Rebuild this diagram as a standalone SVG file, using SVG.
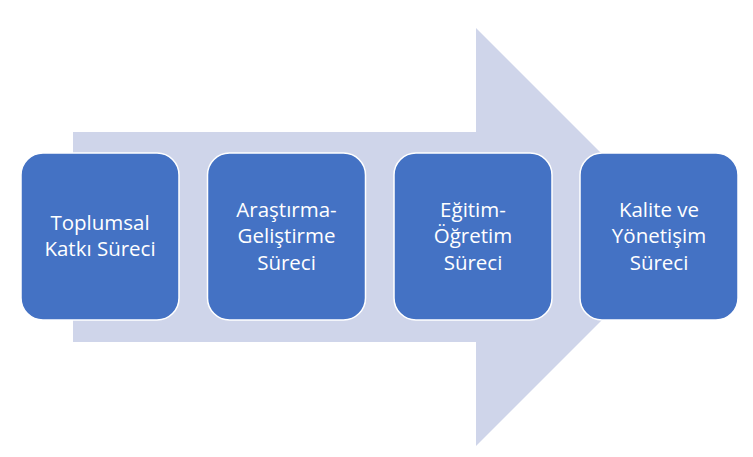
<svg xmlns="http://www.w3.org/2000/svg" width="753" height="457" viewBox="0 0 753 457">
<style>
.box{fill:#4472C4;stroke:#FFFFFF;stroke-width:1.5}
.lbl{font-family:"Open Sans","Liberation Sans",sans-serif;font-size:20.5px;fill:#FFFFFF;text-anchor:middle}
</style>
<rect width="753" height="457" fill="#FFFFFF"/>
<g id="arrow">
<polygon points="73,132 476,132 476,28 685,237 476,446 476,342 73,342" fill="#CFD5EA"/>
</g>
<g id="connectors"></g>
<g id="n1">
<rect class="box" x="21" y="153" width="158" height="167" rx="22" ry="22"/>
<text class="lbl" x="100" y="230">Toplumsal</text>
<text class="lbl" x="100" y="256">Katkı Süreci</text>
</g>
<g id="n2">
<rect class="box" x="207.5" y="153" width="158" height="167" rx="22" ry="22"/>
<text class="lbl" x="286.5" y="217">Araştırma-</text>
<text class="lbl" x="286.5" y="243">Geliştirme</text>
<text class="lbl" x="286.5" y="270">Süreci</text>
</g>
<g id="n3">
<rect class="box" x="394" y="153" width="158" height="167" rx="22" ry="22"/>
<text class="lbl" x="473" y="217">Eğitim-</text>
<text class="lbl" x="473" y="243">Öğretim</text>
<text class="lbl" x="473" y="270">Süreci</text>
</g>
<g id="n4">
<rect class="box" x="580" y="153" width="158" height="167" rx="22" ry="22"/>
<text class="lbl" x="659" y="217">Kalite ve</text>
<text class="lbl" x="659" y="243">Yönetişim</text>
<text class="lbl" x="659" y="270">Süreci</text>
</g>
</svg>
